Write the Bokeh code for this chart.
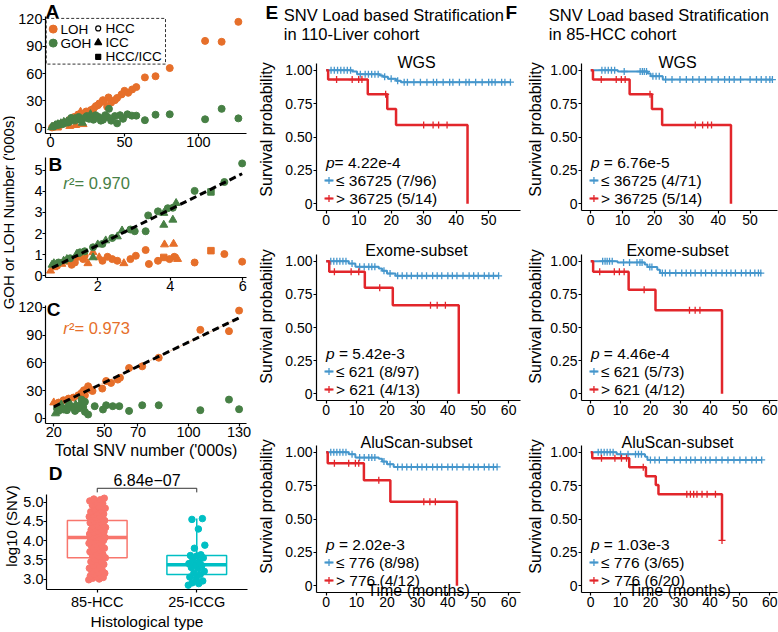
import numpy as np
from bokeh.plotting import figure
from bokeh.layouts import row, column
from bokeh.models import Label, FixedTicker, Range1d, CustomJSTickFormatter
from bokeh.embed import file_html
from bokeh.resources import INLINE

FONT = "Liberation Sans"
ORANGE = "#E66F2A"
GREEN = "#478045"
BLUE = "#4596CC"
RED = "#E2262B"
HCC_COL = "#F8766D"
ICC_COL = "#00BFC4"

# ---------------- data: panel A (total SNV vs LOH / GOH, '000s) ----------------
a_loh_x = [127, 104.5, 115.7, 80.6, 71, 63.8, 58, 55.2, 52.5, 50, 48, 45, 43.5, 41, 39.2, 38.3, 36, 35.4, 33, 32,
           30.6, 29, 27.2, 26, 24.1, 20.3, 18.7, 16, 14, 12, 10, 8, 6, 5, 4, 3, 2, 1.5, 1, 22, 17, 13, 5.1]
a_loh_y = [117, 96, 95, 66, 57, 55.7, 45, 42.4, 38.7, 40.9, 36.9, 33, 30.6, 28, 33.6, 23.2, 29, 30.6, 27, 25,
           24, 21, 19.6, 15, 18.1, 17.7, 14.8, 12, 10, 8, 6, 5, 3.5, 2.5, 2, 1.5, 1, 0.8, 0.5, 4, 3, 2, 1.2]
a_loh_type = ["HCC"] * 25 + ["ICC", "HCC", "HCC", "HCC", "ICC", "HCC", "HCC", "HCC", "ICC", "HCC", "ICC", "HCC",
                             "ICC", "HCC", "ICC", "ICC", "ICC", "HCC/ICC"]
a_goh_x = [127, 115.7, 104.5, 80.6, 71, 63.8, 58, 55, 52, 49, 47, 45, 43.5, 41, 39.5, 38.5, 37, 35.5, 34, 32.5,
           30.5, 29, 27, 26, 24.5, 23, 21.5, 20.5, 19, 18, 16.5, 15, 14, 13, 12, 11, 10, 9, 8, 7, 6, 5, 4, 3, 2,
           1, 0.8, 5.1]
a_goh_y = [10.5, 21, 9.5, 15, 14.5, 8.5, 13.5, 13.5, 15, 10, 14, 5, 13, 8, 21, 12, 14, 9, 8, 12,
           14, 9, 15, 10, 13, 11, 5.5, 8, 12, 9, 10, 7, 11, 8, 6, 7, 5.5, 6.5, 4, 5, 3.5, 4, 3, 2.5, 1.8,
           0.9, 0.6, 4]
a_goh_type = ["HCC"] * 22 + ["ICC", "HCC", "HCC", "HCC", "ICC", "ICC", "HCC", "ICC", "ICC", "ICC", "HCC", "ICC",
                             "HCC", "ICC", "HCC", "ICC", "HCC", "ICC", "HCC", "ICC", "HCC", "ICC", "HCC", "ICC",
                             "ICC", "HCC/ICC"]

# ---------------- data: panel B (low-SNV samples) ----------------
b_goh_x = [5.98, 5.49, 5.12, 4.67, 4.16, 4.07, 3.93, 3.82, 3.66, 3.39, 4.07, 3.82, 3.32, 3.02, 2.9, 2.67, 2.54,
           2.4, 2.22, 2.13, 2.0, 1.87, 1.64, 1.87, 1.42, 1.24, 1.06, 0.92, 0.79, 0.74, 1.15, 1.51]
b_goh_y = [5.32, 4.44, 3.97, 4.02, 3.44, 3.22, 3.2, 2.97, 3.05, 2.86, 2.65, 2.41, 2.11, 2.11, 2.19, 2.14, 1.86,
           1.79, 1.67, 1.51, 1.48, 1.35, 1.16, 0.87, 1.03, 0.83, 0.71, 0.63, 0.59, 0.52, 0.79, 1.11]
b_goh_type = ["HCC", "HCC", "HCC/ICC", "HCC", "ICC", "HCC", "HCC", "ICC", "HCC", "HCC", "ICC", "ICC", "HCC",
              "HCC", "HCC", "ICC", "ICC", "HCC", "ICC", "HCC", "ICC", "HCC", "HCC", "ICC", "ICC", "HCC", "ICC",
              "HCC", "ICC", "ICC", "ICC", "HCC"]
b_loh_x = [5.98, 5.49, 5.12, 4.67, 4.2, 4.09, 3.84, 4.11, 3.98, 3.82, 3.66, 3.41, 3.32, 3.05, 2.9, 2.72, 2.54,
           2.4, 2.27, 2.13, 2.04, 1.87, 1.73, 1.6, 1.46, 1.28, 1.15, 1.01, 0.88, 0.79, 0.7, 1.37, 1.64]
b_loh_y = [0.67, 1.03, 1.19, 0.63, 0.79, 1.51, 1.48, 0.9, 0.79, 0.87, 0.71, 0.56, 1.22, 0.95, 0.79, 0.59, 0.71,
           0.79, 0.9, 0.71, 0.87, 1.11, 0.59, 0.79, 0.9, 0.52, 0.71, 0.56, 0.48, 0.4, 0.24, 0.63, 0.95]
b_loh_type = ["HCC", "HCC", "HCC/ICC", "HCC", "ICC", "ICC", "ICC", "HCC", "HCC", "HCC/ICC", "HCC", "HCC", "HCC",
              "HCC", "HCC", "ICC", "HCC", "HCC", "HCC", "HCC", "ICC", "ICC", "ICC", "HCC", "HCC", "HCC", "HCC",
              "ICC", "HCC", "ICC", "ICC", "HCC", "HCC"]
b_r2 = "²= 0.970"

# ---------------- data: panel C (high-SNV samples) ----------------
c_loh_x = [130, 107, 124, 82.3, 72.5, 64.7, 59.3, 58, 54, 51.1, 48.8, 43, 40.4, 37.9, 36.5, 34.6, 31.7, 28.8,
           25.8, 22.9, 20, 38.5, 41.5]
c_loh_y = [116.5, 95.7, 94.3, 65.6, 56.3, 54.5, 44, 42, 38.4, 40.5, 32.3, 29.7, 34.8, 30.5, 27.6, 25.1, 22.6,
           21.5, 19.7, 17.2, 17.2, 25, 31.5]
c_loh_type = ["HCC"] * 20 + ["ICC", "HCC", "HCC"]
c_goh_x = [130, 124, 107, 82.3, 72.5, 64.7, 58.9, 55, 51.1, 49.2, 44.3, 40.4, 38.5, 37.5, 36.5, 35.6, 34.6, 32.6,
           30.7, 28.8, 27.8, 25.8, 23.9, 21.9, 21, 22.9, 29.7, 38.5, 24.5, 33]
c_goh_y = [10, 20.4, 9, 14.3, 14.3, 8.2, 13.3, 13.3, 14.3, 9.7, 13.3, 4.3, 7.2, 12.5, 20.4, 14.3, 10.8, 8.2, 12.5,
           14.3, 9, 9.7, 13.3, 10.8, 5.4, 8.2, 16, 18, 15, 15]
c_goh_type = ["HCC"] * 24 + ["ICC", "HCC", "ICC", "HCC", "ICC", "ICC"]
c_r2 = "²= 0.973"

# ---------------- data: panel D (log10 SNV by histological type) ----------------
d_categories = ["85-HCC", "25-ICCG"]
d_hcc = [2.98, 3.0, 3.02, 3.04, 3.06, 3.08, 3.1, 3.12, 3.15, 3.17, 3.2, 3.22, 3.26, 3.28, 3.31, 3.35, 3.38, 3.42,
         3.45, 3.46, 3.5, 3.55, 3.58, 3.61, 3.64, 3.68, 3.71, 3.74, 3.77, 3.8, 3.83, 3.86, 3.88, 3.9, 3.93, 3.95,
         3.98, 4.0, 4.02, 4.04, 4.06, 4.07, 4.08, 4.09, 4.11, 4.13, 4.15, 4.17, 4.19, 4.21, 4.23, 4.25, 4.28, 4.3,
         4.32, 4.34, 4.36, 4.38, 4.41, 4.43, 4.46, 4.48, 4.5, 4.52, 4.54, 4.56, 4.58, 4.6, 4.62, 4.64, 4.67, 4.69,
         4.72, 4.75, 4.78, 4.81, 4.84, 4.88, 4.92, 4.96, 5.0, 5.03, 5.06, 5.08, 5.1]
d_icc = [2.84, 2.88, 2.9, 2.95, 3.0, 3.05, 3.12, 3.15, 3.2, 3.27, 3.3, 3.35, 3.37, 3.4, 3.45, 3.5, 3.55, 3.6,
         3.61, 3.63, 3.8, 3.88, 4.3, 4.55, 4.57]
d_pvalue = "6.84e\u221207"

# ---------------- data: Kaplan-Meier curves (event times, survival after event, end, censor times) ----------------
km_e_wgs_blue = ([8, 9.5, 16.5, 17.5, 19, 21.5, 23], [0.99, 0.97, 0.96, 0.95, 0.935, 0.92, 0.91], 56.7,
                 [1.5, 2.5, 3.5, 4.5, 5.5, 6.5, 7.5, 10.5, 12, 13, 14, 15, 16, 18, 20, 22, 24, 25, 27, 29, 31, 33,
                  34, 36, 38, 39, 41, 43, 44, 46, 48, 50, 51, 52, 54, 55, 56.7])
km_e_wgs_red = ([0.6, 12.8, 18.8, 21.5, 43.5], [0.93, 0.82, 0.71, 0.59, 0.0], 43.5,
                [3.2, 8, 10, 11, 18.3, 30, 32.9, 34.6, 37.2])
km_e_exo_blue = ([7.4, 9.6, 17.3, 18.4, 20, 22.8], [0.982, 0.957, 0.945, 0.927, 0.907, 0.889], 56.7,
                 [1.5, 2.5, 3.5, 4.5, 5.5, 6.5, 8.5, 11, 12.5, 14, 15, 16, 19, 21, 23.5, 25, 26.5, 28, 30, 31.5,
                  33, 35, 36.5, 38, 40, 41.5, 43, 45, 47, 48.5, 50, 52, 53.5, 55, 56.7])
km_e_exo_red = ([1, 12.7, 21.9, 43.6], [0.92, 0.80, 0.667, 0.0], 43.6,
                [2.7, 8.2, 10.7, 17.6, 34.3, 36.5, 39.2])
km_e_alu_blue = ([7.4, 9.6, 17.3, 18.4, 20, 22.2], [0.985, 0.96, 0.95, 0.93, 0.91, 0.89], 56.2,
                 [1.5, 2.5, 3.5, 4.5, 5.5, 6.5, 8.5, 11, 12.5, 14, 15, 16, 19, 21, 23.5, 25, 26.5, 28, 30, 31.5,
                  33, 35, 36.5, 38, 40, 41.5, 43, 45, 47, 48.5, 50, 52, 53.5, 55, 56.2])
km_e_alu_red = ([0.5, 12.4, 21.1, 43], [0.918, 0.79, 0.63, 0.0], 43,
                [2.7, 7.4, 9.6, 10.7, 17.3, 32.1, 34.1, 35.9])
km_f_wgs_blue = ([8.5, 17.9, 18.8, 22.6], [0.99, 0.975, 0.955, 0.93], 57,
                 [3.5, 4.5, 5.5, 6.5, 7.5, 10.5, 15.5, 16.2, 16.8, 17.5, 19.5, 20.5, 21.5, 23.5, 25.5, 28, 30, 32,
                  34, 36, 38, 40, 42, 43.5, 45, 47, 50, 52, 53.5, 55, 56.2, 57])
km_f_wgs_red = ([0.7, 12.2, 19.2, 22.4, 44], [0.93, 0.82, 0.71, 0.59, 0.0], 44,
                [3.3, 8, 9.6, 10.8, 18.6, 32.8, 35.1, 36.7, 37.9])
km_f_exo_blue = ([9, 18.1, 19, 22.3, 23.2], [0.99, 0.975, 0.955, 0.935, 0.91], 57,
                 [4, 4.8, 5.5, 6.3, 7.2, 11, 13, 15.5, 16.5, 17.2, 19.8, 20.5, 24, 25, 26.5, 28.5, 30.5, 32, 33.5,
                  35, 37, 38.5, 40.5, 42, 44, 45.5, 47, 48.5, 50.5, 52, 53.5, 55, 56.2, 57])
km_f_exo_red = ([0.8, 12.7, 21.7, 44], [0.92, 0.785, 0.63, 0.0], 44,
                [3, 7.9, 9.6, 11.2, 17.9, 33.1, 35, 36.6])
km_f_alu_blue = ([8.7, 18.2, 19], [0.985, 0.965, 0.942], 57.3,
                 [2.5, 3.5, 4.5, 5.5, 6.5, 7.5, 10, 12.5, 15, 16, 17, 20, 21.5, 23, 25.5, 28, 30, 32, 33.5, 35, 37,
                  38.5, 40, 42, 44, 46, 48, 50, 52, 54, 55.5, 57.3])
km_f_alu_red = ([0.5, 12.9, 18.5, 21.8, 22.7, 44], [0.955, 0.887, 0.82, 0.754, 0.686, 0.34], 44,
                [3.6, 8.1, 10.3, 12, 17.6, 32.2, 33.4, 34.5, 35.6, 37.3, 39, 41.8, 44])

km_titles = ["WGS", "Exome-subset", "AluScan-subset"]
km_e_legend = [("= 4.22e-4", "\u2264 36725 (7/96)", "> 36725 (5/14)", False),
               ("= 5.42e-3", "\u2264 621 (8/97)", "> 621 (4/13)", True),
               ("= 2.02e-3", "\u2264 776 (8/98)", "> 776 (4/12)", True)]
km_f_legend = [("= 6.76e-5", "\u2264 36725 (4/71)", "> 36725 (5/14)", True),
               ("= 4.46e-4", "\u2264 621 (5/73)", "> 621 (4/12)", True),
               ("= 1.03e-3", "\u2264 776 (3/65)", "> 776 (6/20)", True)]
e_heading = ["SNV Load based Stratification", "in 110-Liver cohort"]
f_heading = ["SNV Load based Stratification", "in 85-HCC cohort"]
legend_a = ["LOH", "GOH", "HCC", "ICC", "HCC/ICC"]
MARKERS = {"HCC": "circle", "ICC": "triangle", "HCC/ICC": "square"}
MSIZE = {"HCC": 7, "ICC": 8, "HCC/ICC": 6.5}


# ---------------- helpers ----------------
def mkfig(w, h, xr, yr, ml, mr, mt, mb, ext=0, tick_size="14.5px"):
    """mt/mb/ml/mr: borders around the visible axes box; ext: px of the top border
    that is turned into (invisible) frame so annotations there are not clipped."""
    fh = h - mt - mb
    ytop = yr[1] + ext * (yr[1] - yr[0]) / fh
    p = figure(width=w, height=h, x_range=Range1d(*xr), y_range=Range1d(yr[0], ytop),
               min_border_left=ml, min_border_right=mr, min_border_top=mt - ext, min_border_bottom=mb,
               toolbar_location=None, output_backend="svg")
    p.outline_line_color = None
    p.xgrid.visible = False
    p.ygrid.visible = False
    p.background_fill_color = "white"
    p.border_fill_color = "white"
    p.yaxis.bounds = (yr[0], yr[1])
    for ax in (p.xaxis[0], p.yaxis[0]):
        ax.axis_line_color = "black"
        ax.axis_line_width = 1.2
        ax.major_tick_line_color = "black"
        ax.major_tick_line_width = 1.2
        ax.major_tick_in = 0
        ax.major_tick_out = 3
        ax.minor_tick_line_color = None
        ax.major_label_text_font = FONT
        ax.major_label_text_font_size = tick_size
        ax.major_label_text_color = "black"
        ax.major_label_standoff = 0
        ax.axis_label_text_font = FONT
        ax.axis_label_text_font_style = "normal"
        ax.axis_label_text_color = "black"
    spec = (xr[0], xr[1], yr[0], yr[1], w - ml - mr, fh)
    return p, spec


def pt(spec, dx, dy):
    x0, x1, y0, y1, fw, fh = spec
    return x0 + dx / fw * (x1 - x0), y1 - dy / fh * (y1 - y0)


def lab(p, spec, dx, dy, text, size, color="black", align="left", style="normal"):
    x, y = pt(spec, dx, dy)
    p.add_layout(Label(x=x, y=y, text=text, text_font=FONT, text_font_size=f"{size}px",
                       text_color=color, text_align=align, text_baseline="middle",
                       text_font_style=style))


def scatter_typed(p, xs, ys, types, color):
    xs, ys, types = np.array(xs), np.array(ys), np.array(types)
    for t, m in MARKERS.items():
        sel = types == t
        if sel.any():
            p.scatter(xs[sel], ys[sel], marker=m, size=MSIZE[t], fill_color=color, line_color=color)


def blank(w, h, xr, yr):
    p = figure(width=w, height=h, x_range=Range1d(*xr), y_range=Range1d(*yr), x_axis_type=None,
               y_axis_type=None, min_border=0, toolbar_location=None, output_backend="svg")
    p.outline_line_color = None
    p.background_fill_color = "white"
    p.border_fill_color = "white"
    return p


# ---------------- left column ----------------
labelfig = blank(15, 462, (0, 1), (0, 1))
labelfig.add_layout(Label(x=0.5, y=1 - 212 / 462, text="GOH or LOH Number ('000s)", angle=np.pi / 2,
                          text_font=FONT, text_font_size="15px", text_color="black",
                          text_align="center", text_baseline="middle"))

# Panel A
pA, sA = mkfig(237, 153, (-3.4, 132.5), (-6.2, 122.9), 30, 6, 16, 20, ext=16)
pA.xaxis.ticker = FixedTicker(ticks=[0, 50, 100])
pA.yaxis.ticker = FixedTicker(ticks=[0, 30, 60, 90, 120])
scatter_typed(pA, a_loh_x, a_loh_y, a_loh_type, ORANGE)
scatter_typed(pA, a_goh_x, a_goh_y, a_goh_type, GREEN)
bx0, by0 = pt(sA, 0.7, 1.9)
bx1, by1 = pt(sA, 120, 47.6)
pA.quad(left=bx0, right=bx1, top=by0, bottom=by1, fill_color=None, line_color="#333333", line_dash="3 2",
        line_width=1)
for i, (col, txt) in enumerate([(ORANGE, legend_a[0]), (GREEN, legend_a[1])]):
    mx, my = pt(sA, 7.7, 12.6 + 14 * i)
    pA.scatter([mx], [my], marker="circle", size=8, fill_color=col, line_color=col)
    lab(pA, sA, 15, 12.6 + 14 * i, txt, 13.5)
for i, (mk, txt) in enumerate([("circle", legend_a[2]), ("triangle", legend_a[3]), ("square", legend_a[4])]):
    mx, my = pt(sA, 52.7, 11.9 + 14.2 * i)
    pA.scatter([mx], [my], marker=mk, size=[5, 7, 5][i], fill_color="black" if i else "white",
               line_color="black", line_width=1.2)
    lab(pA, sA, 60, 11.9 + 14.2 * i, txt, 13.5)
lab(pA, sA, 0, -5.2, "A", 19, style="bold")

# Panel B
pB, sB = mkfig(237, 144, (0.56, 6.1), (-0.08, 5.6), 27, 6, 4, 20, ext=4)
pB.xaxis.ticker = FixedTicker(ticks=[2, 4, 6])
pB.yaxis.ticker = FixedTicker(ticks=[0, 1, 2, 3, 4, 5])
scatter_typed(pB, b_loh_x, b_loh_y, b_loh_type, ORANGE)
scatter_typed(pB, b_goh_x, b_goh_y, b_goh_type, GREEN)
kb = np.polyfit(b_goh_x, b_goh_y, 1)
bxl = np.array([min(b_goh_x), max(b_goh_x)])
pB.line(bxl, np.polyval(kb, bxl), line_color="black", line_width=3, line_dash="7 4")
lab(pB, sB, 18, 25.5, "r", 16.5, color=GREEN, style="italic")
lab(pB, sB, 23.8, 25.5, b_r2, 16.5, color=GREEN)
lab(pB, sB, 3, 6.5, "B", 19, style="bold")

# Panel C
pC, sC = mkfig(237, 165, (15.1, 134.4), (-5.4, 122), 27, 6, 8, 39, ext=8)
pC.xaxis.ticker = FixedTicker(ticks=[20, 50, 70, 100, 130])
pC.yaxis.ticker = FixedTicker(ticks=[0, 30, 60, 90, 120])
pC.xaxis.axis_label = "Total SNV number ('000s)"
pC.xaxis.axis_label_text_font_size = "16px"
pC.xaxis.axis_label_standoff = 2
kc = np.polyfit(c_loh_x, c_loh_y, 1)
cxl = np.array([min(c_loh_x), max(c_loh_x)])
pC.line(cxl, np.polyval(kc, cxl), line_color="#F5C9A8", line_width=1)
scatter_typed(pC, c_loh_x, c_loh_y, c_loh_type, ORANGE)
scatter_typed(pC, c_goh_x, c_goh_y, c_goh_type, GREEN)
pC.line(cxl, np.polyval(kc, cxl), line_color="black", line_width=3, line_dash="7 4")
lab(pC, sC, 18, 22.5, "r", 16.5, color=ORANGE, style="italic")
lab(pC, sC, 23.8, 22.5, c_r2, 16.5, color=ORANGE)
lab(pC, sC, 1.3, 3.5, "C", 19, style="bold")

# Panel D
pD, sD = mkfig(252, 170, (0.49, 2.51), (2.727, 5.21), 41, 5, 33, 37, ext=33)
pD.yaxis.ticker = FixedTicker(ticks=[3.0, 3.5, 4.0, 4.5, 5.0])
pD.yaxis.formatter = CustomJSTickFormatter(code="return tick.toFixed(1);")
pD.xaxis.ticker = FixedTicker(ticks=[1, 2])
pD.xaxis.major_label_overrides = {1: d_categories[0], 2: d_categories[1]}
pD.yaxis.axis_label = "log10 (SNV)"
pD.xaxis.axis_label = "Histological type"
pD.xaxis.axis_label_text_font_size = "15.5px"
pD.yaxis.axis_label_text_font_size = "15px"
pD.xaxis.axis_label_standoff = 0
pD.yaxis.axis_label_standoff = 0
pD.xaxis.major_label_standoff = 1
for c, vals, col in ((1, d_hcc, HCC_COL), (2, d_icc, ICC_COL)):
    v = np.array(vals)
    q1, med, q3 = np.percentile(v, [25, 50, 75])
    pD.segment([c, c], [q3, q1], [c, c], [v.max(), v.min()], line_color=col, line_width=1.5)
    pD.quad(left=c - 0.3, right=c + 0.3, bottom=q1, top=q3, fill_color="white", line_color=col, line_width=1.5)
    pD.segment(c - 0.3, med, c + 0.3, med, line_color=col, line_width=3.5)
    jit = ((np.arange(len(v)) * 0.618034) % 1 - 0.5) * 0.17
    pD.scatter(c + jit, v, marker="circle", size=6.5, fill_color=col, line_color=col)
yb = pt(sD, 0, -6)[1]
yt = pt(sD, 0, -1.7)[1]
pD.line([1, 1, 2, 2], [yt, yb, yb, yt], line_color="#333333", line_width=1)
lab(pD, sD, 103, -14.3, d_pvalue, 16, align="center")
lab(pD, sD, 2.3, -21.3, "D", 19, style="bold")

left = column(row(labelfig, column(pA, pB, pC)), pD)


# ---------------- KM panels ----------------
def km_panel(w, ml, mr, h, mt, mb, xr, xticks, title, title_dy, blue, red, legend, ystand, time_label):
    p, s = mkfig(w, h, xr, (-0.05, 1.05), ml, mr, mt, mb, ext=mt, tick_size="14px")
    p.xaxis.ticker = FixedTicker(ticks=xticks)
    p.xaxis.major_label_standoff = 1
    p.yaxis.major_label_standoff = 1
    p.yaxis.ticker = FixedTicker(ticks=[0, 0.25, 0.5, 0.75, 1.0])
    p.yaxis.formatter = CustomJSTickFormatter(code="return tick == 0 ? '0' : tick.toFixed(2);")
    p.yaxis.axis_label = "Survival probability"
    p.yaxis.axis_label_text_font_size = "16px"
    p.yaxis.axis_label_standoff = ystand
    if time_label:
        p.xaxis.axis_label = "Time (months)"
        p.xaxis.axis_label_text_font_size = "16px"
        p.xaxis.axis_label_standoff = -28
    for curve, color, lw in ((blue, BLUE, 2), (red, RED, 2.5)):
        t_ev, s_ev, t_end, cens = curve
        t = [0] + list(t_ev)
        sv = [1] + list(s_ev)
        if t_end > t[-1]:
            t.append(t_end)
            sv.append(sv[-1])
        p.step(t, sv, mode="after", line_color=color, line_width=lw)
        tf = np.array([0] + list(t_ev))
        sf = np.array([1] + list(s_ev))
        cy = sf[np.searchsorted(tf, np.array(cens), side="right") - 1]
        p.scatter(cens, cy, marker="cross", size=7, line_color=color, line_width=1.3)
    fw = s[4]
    lab(p, s, fw / 2 - 2, title_dy, title, 16, align="center")
    ptxt, l1, l2, spaced = legend
    lab(p, s, 9.5, 99, "p", 15.5, style="italic")
    lab(p, s, 9.5 + 8.6 + (4.3 if spaced else 0), 99, ptxt, 15.5)
    for dy, txt, col in ((117, l1, BLUE), (135, l2, RED)):
        xa, ya = pt(s, 8, dy)
        xb, _ = pt(s, 17, dy)
        xc, _ = pt(s, 12.5, dy)
        p.segment(xa, ya, xb, ya, line_color=col, line_width=2)
        p.scatter([xc], [ya], marker="cross", size=7, line_color=col, line_width=1.3)
        lab(p, s, 19.5, dy, txt, 15.5)
    return p


E_W, E_ML, E_MR = 272, 64, 4
F_W, F_ML, F_MR = 254, 56, 1
rows_spec = [(184, 15, 22), (188, 22, 20), (212, 25, 40)]
title_dys = [-1.5, -4.4, -3.5]
e_ranges = [(-2.98, 59.8), (-3.19, 63.9), (-3.19, 63.9)]
f_ranges = [(-2.9, 58.6), (-3.1, 62.6), (-3.1, 62.6)]
x_ticks = [[0, 10, 20, 30, 40, 50], [0, 10, 20, 30, 40, 50, 60], [0, 10, 20, 30, 40, 50, 60]]
e_curves = [(km_e_wgs_blue, km_e_wgs_red), (km_e_exo_blue, km_e_exo_red), (km_e_alu_blue, km_e_alu_red)]
f_curves = [(km_f_wgs_blue, km_f_wgs_red), (km_f_exo_blue, km_f_exo_red), (km_f_alu_blue, km_f_alu_red)]

e_figs, f_figs = [], []
for i in range(3):
    h, mt, mb = rows_spec[i]
    e_figs.append(km_panel(E_W, E_ML, E_MR, h, mt, mb, e_ranges[i], x_ticks[i], km_titles[i], title_dys[i],
                           e_curves[i][0], e_curves[i][1], km_e_legend[i], 7, i == 2))
    f_figs.append(km_panel(F_W, F_ML, F_MR, h, mt, mb, f_ranges[i], x_ticks[i], km_titles[i], title_dys[i],
                           f_curves[i][0], f_curves[i][1], km_f_legend[i], 3, i == 2))

# header above the survival panels (page x 252..778, page y 0..48)
header = blank(E_W + F_W, 48, (252, 778), (0, 48))
for x, txt, sz, st, yy in ((265, "E", 19, "bold", 12), (505, "F", 19, "bold", 12),
                           (283.3, e_heading[0], 16.5, "normal", 14), (283.3, e_heading[1], 16.5, "normal", 33.3),
                           (548.3, f_heading[0], 16.5, "normal", 14), (548.3, f_heading[1], 16.5, "normal", 33.3)):
    header.add_layout(Label(x=x, y=48 - yy, text=txt, text_font=FONT, text_font_size=f"{sz}px",
                            text_font_style=st, text_color="black", text_align="left", text_baseline="middle"))

right = column(header, row(column(*e_figs), column(*f_figs)))
layout = row(left, right)
open("out.html", "w").write(file_html(layout, INLINE))
